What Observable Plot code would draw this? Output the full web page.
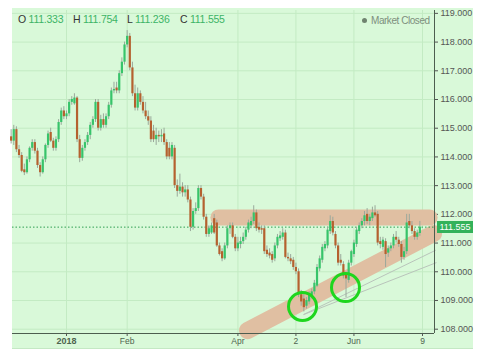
<!DOCTYPE html>
<html><head><meta charset="utf-8">
<script src="https://cdn.jsdelivr.net/npm/d3@7"></script>
<script src="https://cdn.jsdelivr.net/npm/@observablehq/plot@0.6"></script>
<style>
body{margin:0;background:#fff;font-family:"Liberation Sans",Arial,sans-serif}
#wrap{position:relative;width:480px;height:360px;overflow:hidden}
#bg{position:absolute;left:12px;top:8px;width:461px;height:340px;background:#d9f9d9;border-bottom:1px solid #c4e8c4}
#chart{position:absolute;left:0;top:0}
.hd{position:absolute;top:12px;font-size:10.5px;letter-spacing:-0.25px;line-height:14px;white-space:nowrap;color:#333}
.hd b{font-weight:normal;color:#3cb466}
#mc{position:absolute;top:14px;left:362px;font-size:10px;letter-spacing:-0.45px;line-height:13px;color:#7d8f7d;white-space:nowrap}
#mc i{display:inline-block;width:5px;height:5px;border-radius:50%;background:#6f836f;margin-right:4px;vertical-align:1px}
#pl{position:absolute;left:437px;width:36px;height:12px;background:#33b25a;color:#fff;font-size:9px;line-height:12px;text-align:center}
</style></head>
<body>
<div id="wrap">
  <div id="bg"></div>
  <div id="chart"></div>
  <div class="hd" style="left:18px">O <b>111.333</b></div>
  <div class="hd" style="left:73px">H <b>111.754</b></div>
  <div class="hd" style="left:127px">L <b>111.236</b></div>
  <div class="hd" style="left:180px">C <b>111.555</b></div>
  <div id="mc"><i></i>Market Closed</div>
  <div id="pl">111.555</div>
</div>
<script>
// Daily USD/JPY candles, trading-day index 0 (1 Dec 2017) .. 155 (6 Jul 2018)
const opens = [114.7,114.55,114.95,114.25,114.05,113.55,113.45,113.9,114.3,114.5,114.2,113.7,113.45,113.9,114.4,114.85,114.55,114.3,114.6,115.2,
115.6,115.4,115.5,115.9,115.85,116.05,114.6,113.95,114.3,114.5,114.75,115.1,115.3,115.9,115.0,115.3,115.1,115.4,115.8,116.3,
116.4,116.3,116.9,117.3,117.9,118.2,117.1,116.2,115.7,116.2,115.9,115.6,115.4,115.25,114.9,114.6,114.75,114.7,114.8,114.5,
114.3,114.0,114.3,113.0,112.8,112.95,112.75,112.85,112.5,111.55,112.1,112.2,112.9,112.6,111.9,111.3,111.35,111.85,111.7,110.9,
110.7,110.45,110.9,111.5,111.6,111.2,110.8,110.95,111.05,111.2,111.45,111.6,111.75,112.05,111.55,111.5,111.5,110.75,110.65,110.6,
110.45,110.9,111.15,111.2,111.35,110.5,110.45,110.4,110.15,110.0,109.2,109.05,108.8,108.95,109.15,109.3,109.5,110.1,110.4,110.8,
110.9,111.4,111.75,111.3,110.9,110.4,110.25,109.9,109.7,110.3,110.6,110.95,111.4,111.6,111.75,112.0,111.75,111.85,112.05,112.0,
111.05,110.85,111.05,110.65,110.8,110.9,111.2,111.1,110.95,110.5,110.7,111.75,111.6,111.4,111.2,111.333];
const highs = [114.95,115.1,115.05,114.4,114.15,113.75,114.0,114.35,114.6,114.6,114.3,113.8,114.0,114.45,114.9,115.0,114.65,114.7,115.3,115.7,
115.75,115.6,116.0,116.1,116.2,116.1,114.75,114.4,114.6,114.85,115.2,115.4,116.0,116.0,115.45,115.5,115.5,115.9,116.4,116.6,
116.6,117.0,117.45,118.0,118.4,118.3,117.3,116.5,116.4,116.3,116.1,115.9,115.6,115.4,115.1,115.0,114.9,114.95,115.0,114.6,
114.5,114.5,114.4,113.2,113.4,113.1,113.0,113.0,112.6,112.2,112.4,113.0,113.0,112.7,112.0,111.6,111.7,112.0,111.8,111.0,
110.8,111.0,111.6,111.7,111.7,111.3,111.2,111.2,111.35,111.55,111.8,111.9,112.3,112.15,111.7,111.6,111.6,110.9,110.8,110.7,
111.0,111.3,111.4,111.5,111.45,110.65,110.6,110.5,110.3,110.1,109.35,109.2,109.1,109.3,109.4,109.7,110.25,110.55,110.95,111.05,
111.55,111.95,111.9,111.4,111.0,110.6,110.35,110.0,110.4,110.75,111.1,111.55,111.7,111.85,112.1,112.2,112.0,112.25,112.3,112.1,
111.2,111.2,111.15,110.9,111.0,111.3,111.4,111.2,111.05,110.85,112.0,112.0,111.75,111.5,111.45,111.754];
const lows = [114.45,114.4,114.15,113.95,113.45,113.35,113.4,113.8,114.2,114.1,113.6,113.3,113.4,113.8,114.3,114.5,114.2,114.2,114.5,115.1,
115.3,115.3,115.4,115.8,115.8,114.5,113.8,113.85,114.2,114.4,114.6,115.0,115.2,114.9,114.9,115.0,115.0,115.3,115.7,116.2,
116.2,116.2,116.8,117.2,117.8,117.0,116.1,115.6,115.6,115.8,115.5,115.3,115.1,114.5,114.5,114.4,114.5,114.5,114.4,113.9,
113.9,113.9,112.9,112.6,112.7,112.6,112.6,112.4,111.4,111.45,112.0,112.1,112.5,111.8,111.2,111.2,111.3,111.3,110.85,110.55,
110.35,110.4,110.8,111.3,111.15,110.7,110.7,110.8,110.95,111.1,111.35,111.5,111.65,111.4,111.35,111.3,110.6,110.5,110.45,110.3,
110.35,110.8,111.05,111.1,110.45,110.35,110.25,110.05,109.9,109.1,108.8,108.6,108.7,108.85,109.05,109.2,109.45,110.0,110.3,110.7,
110.8,111.3,111.25,110.8,110.2,110.2,109.75,109.1,109.6,110.2,110.5,110.85,111.3,111.5,111.6,111.65,111.6,111.75,111.9,110.9,
110.8,110.75,110.15,110.5,110.7,110.8,111.0,110.85,110.3,110.4,110.6,111.5,111.3,111.1,111.1,111.236];
const closes = [114.55,114.95,114.25,114.05,113.5,113.45,113.9,114.3,114.5,114.2,113.7,113.45,113.9,114.4,114.8,114.55,114.3,114.6,115.2,115.6,
115.4,115.5,115.9,116.0,116.05,114.6,113.95,114.3,114.5,114.75,115.1,115.3,115.9,115.0,115.3,115.1,115.4,115.8,116.3,116.35,
116.3,116.9,117.3,117.9,118.2,117.1,116.2,115.7,116.2,115.9,115.6,115.4,115.25,114.6,114.6,114.75,114.7,114.75,114.5,114.0,
114.0,114.4,113.0,112.8,112.95,112.75,112.85,112.5,111.55,112.1,112.2,112.9,112.6,111.9,111.3,111.5,111.6,111.35,110.9,110.6,
110.45,110.9,111.5,111.6,111.2,110.8,111.0,111.05,111.2,111.45,111.7,111.75,112.05,111.5,111.45,111.45,110.7,110.6,110.55,110.4,
110.9,111.2,111.25,111.35,110.5,110.45,110.35,110.15,110.0,109.2,108.95,108.75,109.0,109.2,109.3,109.6,110.15,110.45,110.85,110.95,
111.45,111.75,111.35,110.9,110.3,110.3,109.85,109.75,110.3,110.7,111.0,111.45,111.6,111.75,111.95,111.75,111.9,112.05,111.95,111.0,
110.95,111.1,110.6,110.8,110.9,111.2,111.1,110.95,110.5,110.7,111.7,111.6,111.4,111.2,111.35,111.555];

const yTicks = [108,109,110,111,112,113,114,115,116,117,118,119];
const xTickIdx = [21,44,86,108,130,156];
const xTickLabels = ["2018","Feb","Apr","2","Jun","9"];
const lastPrice = 111.555;

// annotations (index, price)
const resistance = [{x1:78.6, y1:111.89, x2:158.7, y2:111.89}];
const support = [{x1:89.6, y1:107.95, x2:160.2, y2:111.33}];
const trendLines = [{x1:110.9, y1:108.51, x2:161.3, y2:110.32},{x1:110.9, y1:108.51, x2:161.0, y2:110.75}];
const circles = [{x:110.5, y:108.79},{x:126.8, y:109.45}];

const xDomain = [0.52, 160.55];
const yDomain = [107.85, 119.1];

const candles = opens.map((o,i)=>({i, o, h:highs[i], l:lows[i], c:closes[i]}));
const UP = "#37c46a", DOWN = "#b5612f";

const chart = Plot.plot({
  width:480, height:360,
  marginLeft:12, marginRight:46, marginTop:10, marginBottom:27,
  style:{background:"transparent", color:"#555", fontSize:"9px", fontFamily:"'Liberation Sans', Arial, sans-serif"},
  x:{domain:xDomain, axis:"bottom", ticks:xTickIdx, tickFormat:d=>xTickLabels[xTickIdx.indexOf(d)], tickSize:3, tickPadding:1, label:null},
  y:{domain:yDomain, axis:"right", ticks:yTicks, tickFormat:d=>d.toFixed(3), tickSize:3, tickPadding:3, label:null},
  marks:[
    Plot.ruleY(yTicks, {stroke:"#c3ebc3", strokeWidth:1}),
    Plot.ruleX(xTickIdx, {stroke:"#c3ebc3", strokeWidth:1}),
    Plot.link(resistance, {x1:"x1", y1:"y1", x2:"x2", y2:"y2", stroke:"#e0bfa2", strokeWidth:16, strokeLinecap:"round", clip:false}),
    Plot.link(support, {x1:"x1", y1:"y1", x2:"x2", y2:"y2", stroke:"#e0bfa2", strokeWidth:17, strokeLinecap:"round", clip:false}),
    Plot.link(trendLines, {x1:"x1", y1:"y1", x2:"x2", y2:"y2", stroke:"#b9c4bb", strokeWidth:1, clip:false}),
    Plot.ruleY([lastPrice], {stroke:"#2f9e50", strokeDasharray:"1.5,2", strokeWidth:1}),
    Plot.ruleX(candles, {x:"i", y1:"l", y2:"h", stroke:"#9aa89b", strokeWidth:1}),
    Plot.ruleX(candles, {x:"i", y1:"o", y2:"c", stroke:d=>d.c>=d.o?UP:DOWN, strokeWidth:2.2}),
    Plot.dot(circles, {x:"x", y:"y", r:14, fill:"none", stroke:"#1ed61e", strokeWidth:3, clip:false}),
    Plot.ruleY([yDomain[0]], {stroke:"#4d5d4f", strokeWidth:1}),
    Plot.ruleX([xDomain[1]], {stroke:"#4d5d4f", strokeWidth:1})
  ]
});
document.getElementById("chart").appendChild(chart);
d3.select(chart).selectAll("text").each(function(){
  const t = this.textContent;
  if (xTickLabels.includes(t)) {
    d3.select(this).attr("fill","#4f644f").style("font-size", t==="2018"?"9px":"8.5px").style("font-weight", t==="2018"?"bold":"normal");
  }
});
const yPix = chart.scale("y").apply(lastPrice);
document.getElementById("pl").style.top = (yPix-6)+"px";
</script>
</body></html>
